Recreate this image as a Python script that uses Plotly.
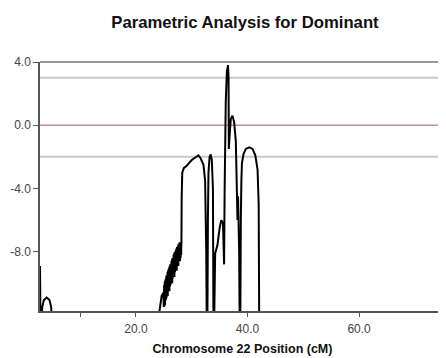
import plotly.graph_objects as go

# Chromosome 22 position (cM) and LOD score
# (values below -11.75 fall off the bottom of the plot)
pos_cm = [
    2.8, 2.9, 3.0, 3.2, 3.5, 4.0, 4.5, 4.8, 5.0, 5.1,
    24.0, 24.2, 24.6, 24.9,
    25.00, 25.05, 25.10, 25.15, 25.20, 25.25, 25.30, 25.35, 25.40, 25.45,
    25.50, 25.55, 25.60, 25.65, 25.70, 25.75, 25.80, 25.85, 25.90, 25.95,
    26.00, 26.05, 26.10, 26.15, 26.20, 26.25, 26.30, 26.35, 26.40, 26.45,
    26.50, 26.55, 26.60, 26.65, 26.70, 26.75, 26.80, 26.85, 26.90, 26.95,
    27.00, 27.05, 27.10, 27.15, 27.20, 27.25, 27.30, 27.35, 27.40, 27.45,
    27.50, 27.55, 27.60, 27.65, 27.70, 27.75, 27.80, 27.85, 27.90, 27.95,
    28.00, 28.05, 28.10, 28.15,
    28.2, 28.3, 28.6, 29.0, 30.0, 31.2, 31.6, 32.1,
    32.4, 32.6, 32.7, 32.8, 32.9, 33.0, 33.2, 33.4, 33.6, 33.8, 33.9,
    34.0, 34.2, 34.6, 35.0, 35.3, 35.6, 35.8, 35.9,
    36.1, 36.3, 36.5, 36.6, 36.65, 36.8, 37.0, 37.3, 37.6, 37.9,
    38.1, 38.2, 38.3, 38.5, 38.6, 38.7, 38.8, 38.9, 39.0, 39.3,
    39.7, 40.3, 40.9, 41.4, 41.8, 42.0, 42.1, 42.3
]
lod = [
    -8.9, -13.0, -13.0, -11.5, -11.05, -10.9, -11.05, -11.5, -13.0, -13.0,
    -13.0, -11.8, -10.8, -10.6,
    -11.5, -10.1, -11.3, -9.9, -11.4, -9.8, -11.1, -9.7, -11.0, -9.5,
    -10.9, -9.6, -10.7, -9.3, -10.8, -9.2, -10.5, -9.1, -10.4, -9.0,
    -10.5, -8.9, -10.2, -8.8, -10.1, -8.9, -10.0, -8.6, -9.9, -8.5,
    -10.0, -8.4, -9.7, -8.5, -9.6, -8.2, -9.5, -8.1, -9.6, -8.0,
    -9.3, -8.1, -9.2, -7.9, -9.1, -7.8, -9.2, -7.7, -8.9, -7.8,
    -8.8, -7.6, -8.9, -7.5, -8.6, -7.6, -8.5, -7.4, -8.6, -7.5,
    -8.4, -7.4, -8.2, -7.4,
    -4.5, -3.0, -2.7, -2.6, -2.2, -1.9, -2.1, -2.5,
    -3.5, -8.0, -13.0, -13.0, -6.0, -3.0, -2.0, -1.85, -2.2, -4.0, -13.0,
    -13.0, -8.1, -7.6, -6.5, -6.0, -6.2, -8.8, -4.0,
    1.5, 3.4, 3.8, 3.0, -1.5, -0.6, 0.4, 0.6, 0.2, -1.0,
    -4.3, -6.0, -4.5, -8.0, -13.0, -13.0, -6.0, -3.5, -2.4, -1.8,
    -1.5, -1.4, -1.5, -1.9, -2.8, -5.0, -13.0, -13.0
]

threshold_levels = [3.0, -2.0]
zero_level = 0.0

y_tickvals = [4.0, 0.0, -4.0, -8.0]
y_ticktext = ["4.0", "0.0", "-4.0", "-8.0"]
x_tickvals = [10, 20, 40, 60]
x_ticktext = ["", "20.0", "40.0", "60.0"]

fig = go.Figure()
fig.add_trace(go.Scatter(
    x=pos_cm, y=lod, mode="lines",
    line=dict(color="black", width=2, simplify=False),
    showlegend=False, hoverinfo="skip"
))

shapes = []
for lv in threshold_levels:
    shapes.append(dict(type="line", xref="paper", x0=0, x1=1, yref="y", y0=lv, y1=lv,
                       line=dict(color="#c8c8c8", width=2), layer="below"))
shapes.append(dict(type="line", xref="paper", x0=0, x1=1, yref="y", y0=zero_level, y1=zero_level,
                   line=dict(color="#c09090", width=1.5), layer="below"))
# plot frame: top darker, right lighter
shapes.append(dict(type="line", xref="paper", x0=0, x1=1, yref="paper", y0=1, y1=1,
                   line=dict(color="#777777", width=1.5)))
shapes.append(dict(type="line", xref="paper", x0=1, x1=1, yref="paper", y0=0, y1=1,
                   line=dict(color="#dddddd", width=1.5)))

fig.update_layout(
    width=438, height=350,
    margin=dict(l=32, r=1, t=54, b=47, autoexpand=False),
    paper_bgcolor="white", plot_bgcolor="white",
    font=dict(family="Liberation Sans, Arial, sans-serif", color="#444444", size=12),
    title=dict(text="<b>Parametric Analysis for Dominant</b>", x=0.541, xanchor="center",
               y=0.96, yanchor="middle", automargin=False,
               font=dict(size=16.7, color="#111111", family="Liberation Sans, Arial, sans-serif")),
    shapes=shapes,
    xaxis=dict(range=[2.8, 75.4], tickvals=x_tickvals, ticktext=x_ticktext, automargin=False,
               showgrid=False, zeroline=False, showline=True, linecolor="#555555", linewidth=1.5,
               ticks="outside", ticklen=4, tickcolor="#555555", ticklabelstandoff=2,
               tickfont=dict(size=12, color="#444444"),
               title=dict(text="<b>Chromosome 22 Position (cM)</b>", standoff=9,
                          font=dict(size=12.5, color="#111111"))),
    yaxis=dict(range=[-11.75, 4.0], tickvals=y_tickvals, ticktext=y_ticktext, automargin=False,
               showgrid=False, zeroline=False, showline=True, linecolor="#555555", linewidth=1.5,
               ticks="outside", ticklen=5, tickcolor="#555555",
               tickfont=dict(size=12, color="#444444")),
)

fig.write_html("out.html")
